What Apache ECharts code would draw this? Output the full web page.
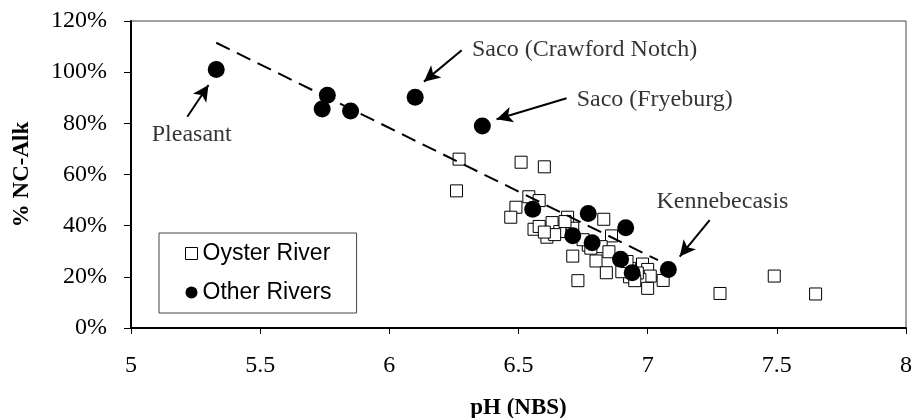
<!DOCTYPE html>
<html>
<head>
<meta charset="utf-8">
<title>% NC-Alk vs pH</title>
<script src="https://cdn.jsdelivr.net/npm/echarts@6/dist/echarts.min.js"></script>
<style>
  html, body { margin: 0; padding: 0; background: #fff; }
  #chart1 { width: 913px; height: 418px; }
</style>
</head>
<body>
<div id="chart1"></div>
<script type="text/javascript">
// Oyster River samples (open squares)
var oysterPH  = [6.27, 6.51, 6.60, 6.26, 6.54, 6.58, 6.49, 6.47, 6.69, 6.83, 6.56, 6.58, 6.63, 6.66, 6.61,
                 6.71, 6.68, 6.86, 6.77, 6.82, 6.71, 6.80, 6.73, 6.84, 6.85, 6.78, 6.93, 6.98, 7.00, 7.01,
                 6.97, 7.00, 7.06, 6.93, 7.28, 7.49, 7.65, 6.64, 6.60, 6.75, 6.96, 6.95, 6.90, 6.92];
var oysterPct = [66.0, 64.8, 63.0, 53.6, 51.3, 49.8, 47.2, 43.3, 43.3, 42.5, 38.6, 39.7, 41.2, 37.7, 35.5,
                 39.0, 41.6, 36.0, 32.4, 31.8, 28.1, 26.2, 18.5, 21.6, 29.8, 31.2, 23.3, 25.0, 22.9, 20.3,
                 19.0, 15.5, 18.6, 20.0, 13.5, 20.3, 13.3, 36.5, 37.5, 34.5, 21.5, 18.5, 22.0, 26.0];

// other rivers (filled circles)
var otherPH  = [5.33, 5.76, 5.74, 5.85, 6.10, 6.36, 6.555, 6.77, 6.915, 6.71, 6.785, 6.895, 6.94, 7.08];
var otherPct = [101.0, 91.0, 85.6, 84.8, 90.2, 79.0, 46.4, 44.8, 39.2, 36.1, 33.3, 26.9, 21.6, 22.9];

// dashed trend line
var trendPH  = [5.33, 7.04];
var trendPct = [111.5, 26.5];

// annotations
var noteNames     = ['Pleasant', 'Saco (Crawford Notch)', 'Saco (Fryeburg)', 'Kennebecasis'];
var noteTextPos   = [[5.235, 75.4], [6.32, 108.7], [6.725, 89.1], [7.034, 49.4]];
var noteArrowFrom = [[5.218, 82.6], [6.28, 108.6], [6.686, 89.8], [7.24, 42.2]];
var noteArrowTo   = [[5.30, 95.0], [6.134, 96.3], [6.415, 81.6], [7.124, 27.9]];

var yTicks = [0, 20, 40, 60, 80, 100, 120];

function pairs(xs, ys) {
    return xs.map(function (x, i) { return [x, ys[i]]; });
}

var serif = 'Liberation Serif';

var noteData = noteNames.map(function (n, i) {
    return {
        name: n,
        value: noteTextPos[i],
        label: { position: i === 0 ? 'inside' : 'right', distance: 0 }
    };
});
var arrowData = noteArrowFrom.map(function (p, i) {
    return [{ coord: p }, { coord: noteArrowTo[i] }];
});

var myChart1 = echarts.init(document.getElementById('chart1'));
myChart1.setOption({
    animation: false,
    backgroundColor: '#fff',
    grid: {
        left: 131, right: 7, top: 21, bottom: 90,
        outerBoundsMode: 'none', containLabel: false,
        show: true, borderColor: '#444', borderWidth: 1
    },
    legend: {
        orient: 'vertical',
        left: 159, top: 233,
        padding: [9, 25, 9, 26],
        itemGap: 16,
        itemWidth: 12, itemHeight: 12,
        backgroundColor: '#fff',
        borderColor: '#444', borderWidth: 1,
        textStyle: { fontFamily: 'Liberation Sans', fontSize: 23, color: '#000' },
        data: [
            { name: 'Oyster River', icon: 'rect', itemStyle: { color: '#fff', borderColor: '#000', borderWidth: 1 } },
            { name: 'Other Rivers', icon: 'circle', itemStyle: { color: '#000' } }
        ]
    },
    xAxis: {
        type: 'value', min: 5, max: 8, interval: 0.5,
        name: 'pH (NBS)', nameLocation: 'middle', nameGap: 69,
        nameTextStyle: { fontFamily: serif, fontSize: 23, fontWeight: 'bold', color: '#000' },
        axisLine: { lineStyle: { color: '#000', width: 2 } },
        axisTick: { length: 6, lineStyle: { color: '#000' } },
        axisLabel: { margin: 26, fontFamily: serif, fontSize: 24, color: '#000' },
        splitLine: { show: false }
    },
    yAxis: {
        type: 'value', min: 0, max: 120, interval: 20,
        name: '% NC-Alk', nameLocation: 'middle', nameGap: 97,
        nameTextStyle: { fontFamily: serif, fontSize: 23, fontWeight: 'bold', color: '#000' },
        axisLine: { show: true, lineStyle: { color: '#000', width: 2 } },
        axisTick: { show: true, length: 7, lineStyle: { color: '#000' } },
        axisLabel: {
            margin: 24, fontFamily: serif, fontSize: 24, color: '#000',
            formatter: function (v) { return yTicks.indexOf(v) >= 0 ? v + '%' : ''; }
        },
        splitLine: { show: false }
    },
    series: [{
        name: 'Oyster River',
        type: 'scatter',
        symbol: 'rect',
        symbolSize: 12,
        z: 2,
        itemStyle: { color: '#fff', borderColor: '#000', borderWidth: 1, opacity: 1 },
        data: pairs(oysterPH, oysterPct)
    }, {
        name: 'Other Rivers',
        type: 'scatter',
        symbol: 'circle',
        symbolSize: 17,
        z: 3,
        itemStyle: { color: '#000', opacity: 1 },
        data: pairs(otherPH, otherPct)
    }, {
        name: 'trend',
        type: 'line',
        symbol: 'none',
        z: 4,
        lineStyle: { color: '#000', width: 2, type: [15, 8] },
        data: pairs(trendPH, trendPct)
    }, {
        name: 'notes',
        type: 'scatter',
        symbolSize: 0,
        z: 5,
        silent: true,
        label: {
            show: true, formatter: '{b}',
            fontFamily: serif, fontSize: 24, color: '#000'
        },
        data: noteData,
        markLine: {
            silent: true,
            symbol: ['none', 'arrow'],
            symbolSize: [12, 16],
            label: { show: false },
            lineStyle: { color: '#000', width: 2, type: 'solid' },
            data: arrowData
        }
    }]
});
</script>
</body>
</html>
